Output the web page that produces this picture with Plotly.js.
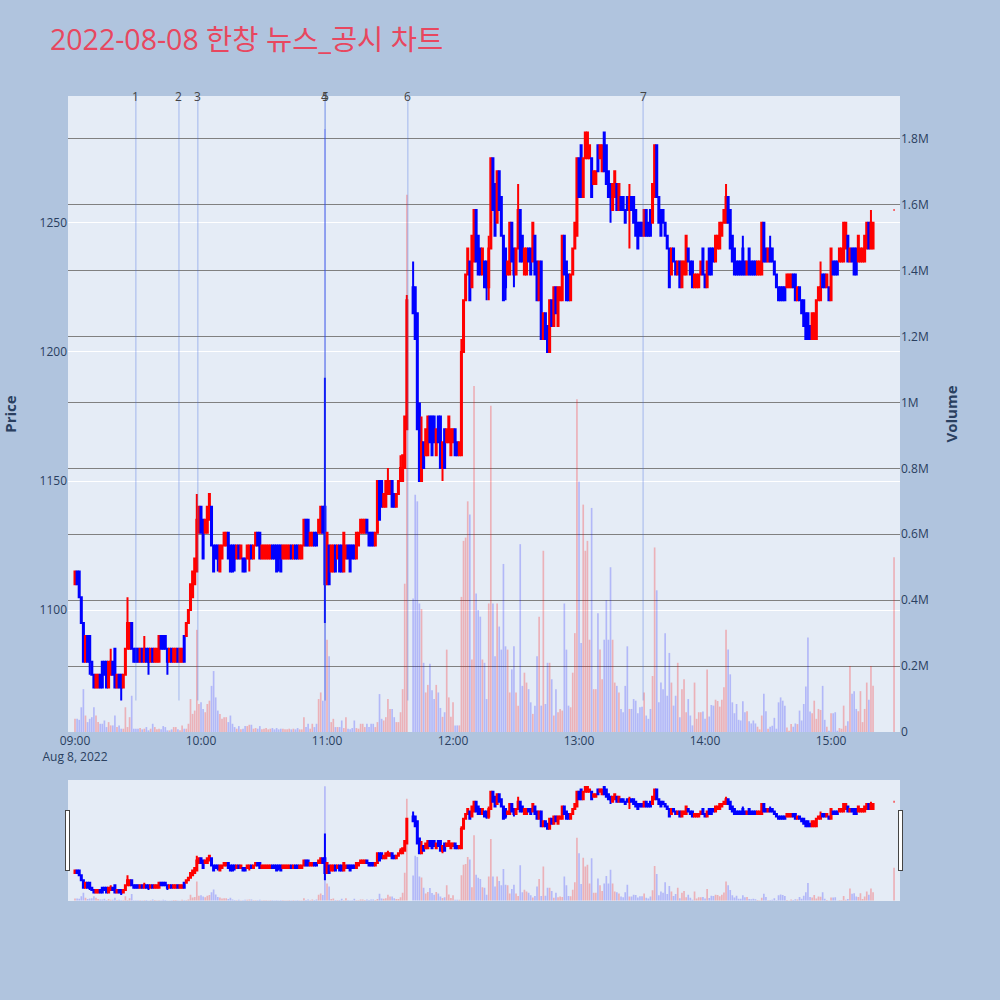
<!DOCTYPE html>
<html><head><meta charset="utf-8">
<script src="https://cdn.plot.ly/plotly-3.0.1.min.js"></script>
<style>html,body{margin:0;padding:0;background:#B0C4DE}</style>
</head><body><div id="chart" style="width:1000px;height:1000px"></div>
<script>
const tradeDate = '2022-08-08';
const lastContinuousMinute = 380;      // 15:20 (minutes after 09:00)
const haltedMinutes = [159, 160];      // no trades (VI)
const closingAuction = '15:30';

const openP = [
1110,1115,1115,1105,1095,1080,1090,1090,1080,1075, 1070,1070,1075,1080,1080,1080,1070,1075,1080,1085,
1070,1075,1075,1070,1075,1085,1085,1095,1085,1085, 1085,1080,1085,1080,1085,1085,1080,1085,1080,1080,
1080,1090,1090,1090,1085,1080,1085,1080,1080,1085, 1080,1080,1090,1090,1095,1100,1105,1110,1115,1130,
1140,1135,1130,1130,1135,1140,1125,1125,1125,1115, 1120,1125,1125,1130,1125,1125,1125,1120,1125,1120,
1120,1120,1120,1120,1125,1120,1125,1130,1130,1120, 1120,1120,1120,1120,1125,1125,1125,1125,1125,1120,
1120,1120,1120,1125,1120,1125,1125,1120,1120,1125, 1135,1135,1125,1125,1130,1130,1130,1130,1140,1140,
1110,1125,1115,1115,1125,1120,1125,1125,1115,1120, 1125,1125,1125,1125,1120,1125,1130,1130,1130,1135,
1130,1130,1130,1125,1130,1150,1150,1140,1140,1145, 1145,1150,1145,1140,1145,1150,1150,1155,1170,1225,
1225,1215,1180,1150,1165,1160,1160,1175,1175,1175, 1160,1175,1175,1155,1170,1165,1165,1160,1165,1170,
1165,1160,
1160,1200,1220,1230,1235,1225,1235,1255,1245,1240, 1230,1235,1235,1225,1240,1275,1265,1250,1270,1260,
1245,1240,1230,1230,1250,1240,1230,1240,1255,1245, 1230,1230,1240,1240,1235,1245,1235,1220,1235,1205,
1215,1210,1200,1220,1210,1225,1210,1220,1220,1245, 1235,1230,1220,1230,1240,1245,1275,
1280,1260,1275,1275,1275,1275,1265,1265,1280,1275, 1270,1285,1280,1270,1265,1255,1260,1265,1255,1260,
1260,1255,1260,1255,1260,1260,1255,1250,1250,1250, 1245,1255,1250,1255,1250,1260,1280,1260,1255,1255,
1250,1245,1240,1230,1240,1235,1230,1235,1225,1230, 1230,1240,1235,1235,1225,1225,1225,1230,1240,1230,
1225,1240,1240,1240,1235,1240,1240,1245,1250,1250, 1260,1255,1245,1240,1235,1235,1235,1240,1235,1230,
1240,1235,1235,1235,1230,1230,1230,1250,1240,1235, 1240,1240,1235,1230,1225,1225,1225,1225,1225,1225,
1225,1230,1230,1220,1225,1220,1220,1215,1215,1210, 1205,1205,1205,1220,1220,1230,1230,1225,1225,1220,
1235,1235,1235,1235,1235,1235,1240,1245,1235,1240, 1240,1240,1235,1235,1235,1235,1240,1250,1240,1240,
1255];

const highP = [
1115,1115,1115,1105,1095,1090,1090,1090,1080,1075, 1075,1075,1075,1080,1080,1080,1080,1085,1080,1085,
1075,1075,1075,1075,1085,1105,1095,1095,1085,1085, 1085,1085,1085,1090,1085,1085,1085,1085,1085,1085,
1090,1090,1090,1090,1085,1085,1085,1085,1085,1085, 1085,1085,1090,1095,1100,1110,1115,1120,1145,1140,
1140,1135,1135,1140,1145,1140,1125,1125,1125,1125, 1125,1130,1130,1130,1125,1125,1125,1125,1125,1125,
1120,1120,1125,1125,1125,1125,1130,1130,1130,1125, 1125,1125,1125,1125,1125,1125,1125,1125,1125,1125,
1125,1125,1125,1125,1125,1125,1125,1125,1125,1135, 1135,1135,1130,1130,1130,1130,1135,1140,1140,1190,
1130,1125,1125,1125,1125,1125,1125,1125,1130,1125, 1125,1125,1125,1125,1130,1130,1135,1135,1135,1135,
1130,1130,1130,1130,1150,1150,1150,1145,1150,1155, 1150,1150,1145,1145,1150,1160,1160,1175,1222,1235,
1225,1215,1180,1175,1165,1170,1175,1175,1175,1175, 1170,1175,1175,1165,1170,1170,1175,1170,1170,1170,
1165,1165,
1205,1220,1230,1240,1235,1245,1255,1255,1245,1240, 1240,1235,1235,1245,1275,1275,1265,1270,1270,1260,
1245,1240,1235,1250,1250,1240,1240,1265,1255,1245, 1240,1240,1240,1240,1250,1245,1235,1235,1235,1215,
1215,1210,1220,1220,1225,1225,1225,1225,1245,1245, 1235,1230,1230,1240,1250,1275,1275,
1280,1275,1285,1285,1280,1275,1270,1270,1280,1280, 1280,1285,1280,1270,1265,1265,1270,1265,1265,1260,
1260,1255,1260,1265,1260,1260,1255,1250,1250,1250, 1255,1255,1250,1255,1265,1280,1280,1260,1255,1255,
1250,1245,1240,1240,1240,1235,1235,1235,1235,1235, 1245,1240,1235,1235,1230,1230,1230,1235,1240,1230,
1235,1240,1240,1240,1245,1245,1250,1250,1255,1265, 1260,1255,1245,1240,1235,1235,1235,1245,1235,1235,
1240,1235,1235,1235,1235,1235,1250,1250,1240,1240, 1245,1240,1235,1230,1225,1225,1225,1225,1230,1230,
1230,1230,1230,1225,1225,1220,1220,1215,1215,1210, 1215,1215,1220,1225,1235,1230,1230,1230,1225,1240,
1235,1235,1235,1240,1240,1250,1250,1245,1240,1240, 1240,1240,1245,1240,1240,1245,1250,1250,1255,1250,
1255];

const lowP = [
1110,1110,1105,1095,1080,1080,1080,1075,1075,1070, 1070,1070,1070,1070,1075,1070,1070,1075,1075,1070,
1070,1070,1065,1070,1075,1085,1085,1085,1080,1080, 1080,1080,1080,1080,1080,1075,1080,1080,1080,1080,
1080,1085,1085,1085,1075,1080,1080,1080,1080,1080, 1080,1080,1080,1090,1095,1100,1105,1110,1115,1130,
1130,1120,1130,1130,1135,1125,1115,1120,1115,1115, 1120,1125,1125,1120,1115,1115,1115,1120,1120,1120,
1115,1115,1120,1115,1120,1120,1125,1125,1120,1120, 1120,1120,1120,1120,1120,1120,1115,1115,1115,1120,
1120,1120,1120,1120,1120,1120,1120,1120,1120,1125, 1125,1125,1125,1125,1125,1125,1130,1130,1130,1095,
1110,1110,1115,1115,1115,1120,1115,1115,1115,1120, 1120,1115,1120,1120,1120,1125,1130,1130,1130,1130,
1125,1125,1125,1125,1130,1135,1140,1140,1140,1145, 1145,1140,1140,1140,1145,1150,1150,1155,1170,1215,
1205,1170,1150,1150,1155,1160,1160,1165,1160,1165, 1160,1165,1155,1150,1155,1165,1165,1160,1165,1160,
1160,1160,
1160,1200,1220,1230,1220,1225,1235,1235,1230,1230, 1230,1225,1220,1220,1240,1255,1245,1250,1255,1245,
1220,1220,1230,1230,1235,1225,1230,1240,1235,1235, 1230,1230,1235,1230,1235,1230,1220,1220,1205,1205,
1205,1200,1200,1210,1210,1215,1210,1220,1220,1230, 1220,1220,1220,1230,1240,1245,1260,
1260,1260,1275,1275,1275,1260,1265,1265,1270,1275, 1270,1270,1265,1260,1250,1255,1260,1255,1255,1255,
1255,1250,1255,1240,1255,1250,1245,1240,1245,1245, 1245,1245,1245,1245,1250,1260,1260,1250,1245,1250,
1245,1240,1225,1230,1235,1230,1230,1225,1225,1230, 1230,1235,1230,1225,1225,1225,1225,1230,1230,1225,
1225,1230,1230,1235,1235,1240,1240,1245,1250,1250, 1250,1240,1235,1230,1230,1230,1230,1230,1230,1230,
1230,1230,1230,1230,1230,1230,1230,1235,1235,1235, 1235,1235,1230,1225,1220,1220,1220,1220,1225,1225,
1225,1225,1220,1220,1220,1215,1210,1205,1205,1205, 1205,1205,1205,1220,1220,1225,1225,1225,1220,1220,
1230,1230,1230,1235,1235,1235,1240,1235,1235,1235, 1230,1230,1235,1235,1235,1235,1240,1240,1240,1240,
1255];

const closeP = [
1115,1110,1105,1095,1080,1090,1080,1080,1075,1070, 1075,1075,1070,1070,1075,1070,1080,1080,1075,1070,
1075,1070,1070,1075,1085,1095,1095,1085,1080,1080, 1080,1085,1080,1085,1080,1080,1085,1080,1085,1085,
1090,1085,1085,1085,1080,1085,1080,1085,1085,1080, 1085,1085,1080,1095,1100,1110,1115,1120,1135,1140,
1130,1120,1135,1140,1145,1125,1115,1120,1120,1125, 1125,1130,1130,1120,1115,1115,1120,1125,1120,1125,
1115,1115,1125,1125,1120,1125,1130,1125,1120,1125, 1125,1125,1125,1125,1120,1120,1115,1120,1115,1125,
1125,1125,1125,1120,1125,1120,1120,1125,1125,1135, 1125,1125,1130,1130,1125,1125,1135,1140,1130,1110,
1130,1110,1125,1125,1115,1125,1115,1115,1130,1125, 1120,1115,1120,1120,1130,1130,1135,1135,1135,1130,
1125,1125,1125,1130,1150,1135,1140,1145,1150,1150, 1150,1140,1140,1145,1150,1155,1160,1175,1220,1215,
1205,1170,1150,1165,1155,1170,1175,1165,1160,1165, 1170,1165,1155,1165,1155,1170,1175,1170,1170,1160,
1160,1165,
1200,1220,1230,1240,1220,1245,1255,1235,1230,1230, 1240,1225,1225,1240,1275,1255,1245,1270,1255,1245,
1220,1225,1235,1250,1235,1230,1240,1255,1235,1235, 1240,1240,1235,1230,1250,1230,1220,1235,1205,1215,
1205,1200,1220,1210,1225,1215,1225,1225,1245,1230, 1220,1220,1230,1240,1250,1275,1260,
1260,1275,1285,1285,1280,1260,1270,1270,1270,1280, 1280,1270,1265,1260,1260,1265,1270,1255,1265,1255,
1255,1250,1255,1260,1255,1250,1245,1240,1245,1245, 1255,1245,1245,1245,1265,1280,1260,1250,1245,1250,
1245,1240,1225,1240,1235,1230,1235,1225,1235,1235, 1245,1235,1230,1225,1230,1230,1230,1235,1230,1225,
1235,1230,1230,1235,1245,1245,1250,1250,1255,1260, 1250,1240,1235,1230,1230,1230,1230,1230,1230,1235,
1230,1230,1230,1230,1235,1235,1250,1235,1235,1240, 1235,1235,1230,1225,1220,1220,1220,1220,1230,1230,
1230,1225,1220,1225,1220,1215,1210,1205,1205,1205, 1215,1215,1220,1225,1225,1225,1225,1230,1220,1240,
1230,1230,1230,1240,1240,1250,1250,1235,1240,1235, 1230,1230,1245,1240,1240,1245,1250,1240,1250,1250,
1255];

// volume in thousands of shares
const volumeK = [
40,40,37,75,130,50,30,40,45,75, 50,30,25,25,35,15,30,20,20,50, 15,20,10,10,75,15,45,110,10,10,
10,12,8,10,15,5,10,25,15,8, 10,8,18,15,5,5,8,15,15,8, 5,20,10,10,25,100,55,65,310,85,
90,70,60,85,95,140,185,105,65,55, 40,45,45,30,50,25,15,10,18,8, 10,18,18,22,22,10,12,10,18,8,
10,12,8,10,12,8,12,8,10,10, 8,8,10,8,10,8,12,8,8,45, 15,25,10,25,15,25,100,120,95,1830,
280,230,30,40,15,15,15,35,12,45, 10,8,12,35,12,10,25,25,15,25, 15,25,25,15,30,115,40,35,45,100,
70,70,45,30,30,60,130,450,1630,405, 720,700,390,373,210,120,143,207,127,100, 143,120,73,46,60,250,105,46,90,20,
20,20,
410,580,590,700,660,220,1050,420,370,350, 220,210,100,390,990,390,230,390,320,250,
510,260,250,120,190,260,120,80,570,140, 180,150,130,90,55,80,230,350,80,550,
85,210,210,160,50,130,60,70,65,390, 250,80,75,180,300,1010,760,
270,690,550,580,280,680,130,130,360,250, 160,280,400,280,500,280,150,140,120,70,
60,140,260,70,70,100,95,57,75,77, 120,50,40,70,170,560,430,90,150,130,
300,110,240,150,80,110,210,45,130,160, 60,100,50,20,150,40,60,60,
62,40,190,47,82,80,98,94,77,98, 136,310,250,175,90,57,85,37,35,93,
60,63,33,26,35,26,16,8,50,116, 63,10,16,19,43,10,90,105,95,80,
14,4,24,16,26,24,65,35,85,138, 287,62,57,95,40,70,67,140,37,16,
4,57,57,60,4,12,10,80,19,33, 200,116,124,70,63,124,30,70,150,98,
200,140,
530];

const eventLabels = ['1','2','3','4','5','6','7'];
const eventTimes = ['09:29:00','09:49:30','09:58:30','10:59:00','10:59:10','11:38:30','13:30:30'];

function pad(n){return String(n).padStart(2,'0');}
const times = [];
for (let m = 0; m <= lastContinuousMinute; m++) {
  if (haltedMinutes.includes(m)) continue;
  times.push(tradeDate + ' ' + pad(9 + Math.floor(m/60)) + ':' + pad(m % 60));
}
times.push(tradeDate + ' ' + closingAuction);

const volume = volumeK.map(v => v * 1000);
const volColors = closeP.map((c, i) => {
  const o = openP[i];
  const up = c > o ? true : (c < o ? false : (i > 0 ? c >= closeP[i-1] : true));
  return up ? 'rgba(255,0,0,0.25)' : 'rgba(0,0,255,0.22)';
});

const candle = {
  type: 'candlestick', x: times, open: openP, high: highP, low: lowP, close: closeP,
  increasing: {line: {color: 'red'}, fillcolor: 'red'},
  decreasing: {line: {color: 'blue'}, fillcolor: 'blue'},
  name: 'Price', showlegend: false
};
const vol = {
  type: 'bar', x: times, y: volume, yaxis: 'y2', name: 'Volume',
  marker: {color: volColors}, showlegend: false
};

const minLow = Math.min(...lowP);
const shapes = eventTimes.map(t => ({
  type: 'line', xref: 'x', yref: 'y',
  x0: tradeDate + ' ' + t, x1: tradeDate + ' ' + t,
  y0: minLow, y1: 1300,
  line: {color: 'rgba(65,105,225,0.4)', width: 1}
}));
const annotations = eventTimes.map((t, i) => ({
  x: tradeDate + ' ' + t, xref: 'x', y: 1, yref: 'paper', yanchor: 'middle',
  text: eventLabels[i], showarrow: false, font: {size: 12, color: '#444'}
}));

const layout = {
  width: 1000, height: 1000,
  paper_bgcolor: '#B0C4DE', plot_bgcolor: '#E5ECF6',
  font: {family: '"Open Sans", "Noto Sans CJK KR", sans-serif', color: '#2a3f5f', size: 12},
  margin: {l: 68, r: 100, t: 96, b: 100},
  title: {text: '2022-08-08 한창 뉴스_공시 차트', x: 0.05, xanchor: 'left', y: 0.96, yanchor: 'middle',
          font: {size: 28.5, color: '#E8475F', family: '"Open Sans", "Noto Sans CJK KR", sans-serif'}},
  showlegend: false,
  xaxis: {
    type: 'date', range: ['2022-08-08 08:56:40', '2022-08-08 15:32:50'],
    showgrid: false,
    rangeslider: {visible: true, bgcolor: '#E5ECF6'}
  },
  yaxis: {
    title: {text: '<b>Price</b>', font: {size: 15}, standoff: 22},
    range: [1052.8, 1299.1], dtick: 50, gridcolor: 'white', zeroline: false
  },
  yaxis2: {
    title: {text: '<b>Volume</b>', font: {size: 15}, standoff: 18},
    overlaying: 'y', side: 'right', range: [0, 1930000],
    showgrid: true, gridcolor: 'gray', zeroline: false
  },
  shapes: shapes, annotations: annotations
};

Plotly.newPlot('chart', [candle, vol], layout, {displayModeBar: false});
</script></body></html>
